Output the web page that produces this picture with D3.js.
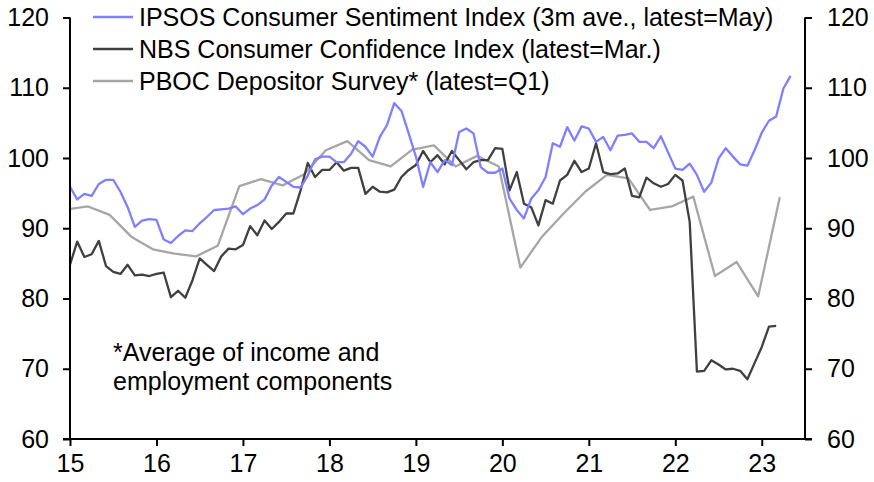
<!DOCTYPE html>
<html>
<head>
<meta charset="utf-8">
<script src="https://cdn.jsdelivr.net/npm/d3@7"></script>
<style>
  html, body { margin: 0; padding: 0; background: #fff; }
  svg { display: block; font-family: "Liberation Sans", Arial, sans-serif; }
</style>
</head>
<body>
<svg id="chart" width="874" height="482"></svg>
<script>
// ---- Data ----
const seriesNames = [
  "IPSOS Consumer Sentiment Index (3m ave., latest=May)",
  "NBS Consumer Confidence Index (latest=Mar.)",
  "PBOC Depositor Survey* (latest=Q1)"
];
const seriesColors = ["#7f7fff", "#404040", "#a6a6a6"];

// Monthly, Jan 2015 - May 2023
const ipsos = [
  95.9, 94.1, 94.9, 94.6, 96.3, 96.9, 96.9, 95.2, 93.0, 90.2, 91.1, 91.3,
  91.2, 88.4, 87.9, 88.9, 89.7, 89.6, 90.7, 91.6, 92.6, 92.7, 92.8, 93.1,
  92.0, 92.8, 93.3, 94.1, 96.1, 97.3, 96.6, 95.9, 95.8, 97.5, 99.8, 100.2,
  100.2, 99.4, 99.4, 100.6, 102.4, 101.6, 100.2, 103.0, 104.7, 107.8, 106.7, 103.5,
  100.2, 95.9, 99.4, 98.0, 99.7, 99.0, 103.7, 104.2, 103.5, 98.7, 97.9, 97.9,
  98.5, 94.2, 92.6, 91.4, 94.2, 95.4, 97.3, 102.1, 101.6, 104.4, 102.5, 104.5,
  104.2, 102.3, 103.0, 101.1, 103.2, 103.3, 103.5, 102.3, 102.3, 101.4, 103.1, 100.8,
  98.5, 98.3, 99.2, 97.6, 95.2, 96.5, 99.9, 101.4, 100.2, 99.1, 98.9, 101.1,
  103.6, 105.3, 105.9, 109.9, 111.7
];
// Monthly, Jan 2015 - Mar 2023
const nbs = [
  84.8, 88.1, 85.9, 86.3, 88.2, 84.6, 83.8, 83.5, 84.8, 83.3, 83.4, 83.2,
  83.5, 83.7, 80.2, 81.1, 80.1, 82.6, 85.7, 84.8, 83.9, 86.0, 87.1, 87.0,
  87.6, 90.3, 89.0, 91.1, 89.9, 90.9, 92.1, 92.1, 95.4, 99.3, 97.3, 98.3,
  98.3, 99.4, 98.2, 98.6, 98.6, 94.9, 95.9, 95.2, 95.1, 95.5, 97.3, 98.3,
  99.0, 101.0, 99.4, 100.4, 99.1, 101.0, 99.7, 98.4, 99.4, 99.7, 99.7, 101.4,
  101.3, 95.4, 98.0, 93.5, 93.0, 90.4, 94.0, 93.5, 96.8, 97.6, 99.6, 98.0,
  98.5, 102.1, 98.0, 97.7, 97.8, 98.5, 94.6, 94.4, 97.2, 96.4, 95.9, 96.3,
  97.6, 96.8, 90.9, 69.6, 69.7, 71.2, 70.6, 69.9, 70.0, 69.7, 68.5, 70.8,
  73.1, 76.0, 76.1
];
// Quarterly, Q4 2014 - Q1 2023
const pboc = [
  92.7,
  93.1, 91.9, 88.8, 87.0,
  86.4, 86.0, 87.5, 96.0,
  97.0, 96.1, 97.7, 101.1,
  102.4, 99.7, 98.8, 101.2,
  101.8, 98.8, 100.3, 98.8,
  84.4, 88.8, 92.1, 95.2,
  97.6, 97.1, 92.6, 93.1,
  94.5, 83.2, 85.2, 80.3,
  94.4
];
const xTickValues = [2015, 2016, 2017, 2018, 2019, 2020, 2021, 2022, 2023];
const xTickLabels = ["15", "16", "17", "18", "19", "20", "21", "22", "23"];
const yTickValues = [60, 70, 80, 90, 100, 110, 120];
const noteLines = ["*Average of income and", "employment components"];

// ---- Dates ----
const monthly = arr => arr.map((v, i) => ({ t: 2015 + i / 12, v }));
const quarterly = arr => arr.map((v, i) => ({ t: 2015 + (3 * (i - 1) + 2.5) / 12, v }));

const data = [monthly(ipsos), monthly(nbs), quarterly(pboc)];

// ---- Layout ----
const svg = d3.select("#chart");
const plotLeft = 70, plotRight = 805, plotTop = 17.5, plotBottom = 439;
const x = d3.scaleLinear().domain([2015, 2023.5]).range([plotLeft, plotRight]);
const y = d3.scaleLinear().domain([60, 120]).range([plotBottom, plotTop]);
const fontSize = 25;

svg.append("defs").append("clipPath").attr("id", "plotclip")
  .append("rect").attr("x", plotLeft).attr("y", 0)
  .attr("width", plotRight - plotLeft).attr("height", 482);

const line = d3.line().x(d => x(d.t)).y(d => y(d.v));

const order = [2, 1, 0];
const g = svg.append("g").attr("clip-path", "url(#plotclip)");
order.forEach(i => {
  g.append("path")
    .datum(data[i])
    .attr("fill", "none")
    .attr("stroke", seriesColors[i])
    .attr("stroke-width", 2.3)
    .attr("stroke-linejoin", "round")
    .attr("d", line);
});

// Axes
const yLeft = d3.axisLeft(y).tickValues(yTickValues).tickSize(7).tickPadding(14);
const yRight = d3.axisRight(y).tickValues(yTickValues).tickSize(7).tickPadding(15);
const xAxis = d3.axisBottom(x).tickValues(xTickValues)
  .tickFormat((d, i) => xTickLabels[i]).tickSize(7).tickPadding(8);

function style(sel) {
  sel.select(".domain").attr("stroke", "#000").attr("stroke-width", 2);
  sel.selectAll(".tick line").attr("stroke", "#000").attr("stroke-width", 2);
  sel.selectAll(".tick text").attr("fill", "#000")
    .style("font-size", fontSize + "px")
    .style("font-family", '"Liberation Sans", Arial, sans-serif');
}

svg.append("g").attr("transform", `translate(0,${plotBottom})`).call(xAxis).call(style)
  .call(s => s.select(".domain").attr("d", `M${plotLeft - 7},0H${plotRight + 7}`));
svg.append("g").attr("transform", `translate(${plotLeft},0)`).call(yLeft).call(style)
  .call(s => s.select(".domain").attr("d", `M0,${plotTop}V${plotBottom}`));
svg.append("g").attr("transform", `translate(${plotRight},0)`).call(yRight).call(style)
  .call(s => s.select(".domain").attr("d", `M0,${plotTop}V${plotBottom}`));

// Legend
const legend = svg.append("g");
seriesNames.forEach((name, i) => {
  const ly = 17 + i * 32;
  legend.append("line")
    .attr("x1", 93).attr("x2", 133).attr("y1", ly).attr("y2", ly)
    .attr("stroke", seriesColors[i]).attr("stroke-width", 2.3);
  legend.append("text")
    .attr("x", 139).attr("y", ly).attr("dy", "0.35em")
    .style("font-size", fontSize + "px").attr("fill", "#000")
    .text(name);
});

// Note
noteLines.forEach((t, i) => {
  svg.append("text")
    .attr("x", 113).attr("y", 361 + i * 29)
    .style("font-size", fontSize + "px").attr("fill", "#000")
    .text(t);
});
</script>
</body>
</html>
